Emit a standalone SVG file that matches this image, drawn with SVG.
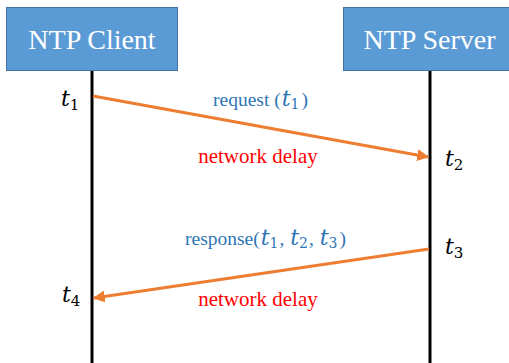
<svg xmlns="http://www.w3.org/2000/svg" width="509" height="363" viewBox="0 0 509 363">
<defs>
<style>
.box{fill:#5B9BD5;stroke:#41719C;stroke-width:1}
.title{font-size:28px;fill:#fff;text-anchor:middle}
.life{stroke:#000;stroke-width:3}
.msg{stroke:#ED7D31;stroke-width:3;fill:none}
.blue{font-size:19.5px;fill:#2E75B6}
.red{font-size:21px;fill:#FF0000;text-anchor:middle}
.m{font-family:'DejaVu Serif',serif;font-style:italic;font-size:22px}
.s{font-family:'DejaVu Serif',serif;font-size:14px}
.tl{font-family:'DejaVu Serif',serif;font-size:22px;fill:#000}
.tl .s{font-size:15px}
</style>
<marker id="ah" viewBox="0 0 10 10" refX="9" refY="5" markerWidth="4" markerHeight="4" orient="auto" markerUnits="strokeWidth">
<path d="M0,0 L10,5 L0,10 Z" fill="#ED7D31"/>
</marker>
</defs>
<rect width="509" height="363" fill="#fff"/>
<g id="client">
<rect class="box" x="6.5" y="7.5" width="171" height="63"/>
<text class="title" font-family="'Liberation Serif', serif" x="92" y="49">NTP Client</text>
<line class="life" x1="92" y1="71" x2="92" y2="363"/>
</g>
<g id="server">
<rect class="box" x="343.5" y="7.5" width="180" height="63"/>
<text class="title" font-family="'Liberation Serif', serif" x="429.5" y="49">NTP Server</text>
<line class="life" x1="430" y1="71" x2="430" y2="363"/>
</g>
<g id="connectors">
<line class="msg" x1="93" y1="96" x2="428" y2="157" marker-end="url(#ah)"/>
<line class="msg" x1="429" y1="249" x2="94" y2="298" marker-end="url(#ah)"/>
</g>
<g id="labels">
<text class="tl" x="61" y="106"><tspan font-style="italic">t</tspan><tspan class="s" dy="4">1</tspan></text>
<text class="tl" x="445" y="166"><tspan font-style="italic">t</tspan><tspan class="s" dy="4">2</tspan></text>
<text class="tl" x="445" y="254"><tspan font-style="italic">t</tspan><tspan class="s" dy="4">3</tspan></text>
<text class="tl" x="62" y="302"><tspan font-style="italic">t</tspan><tspan class="s" dy="4">4</tspan></text>
<text class="blue" font-family="'Liberation Serif', serif" x="213" y="106">request (<tspan class="m" dx="1">t</tspan><tspan class="s" dy="3">1</tspan><tspan dy="-3" dx="2">)</tspan></text>
<text class="blue" font-family="'Liberation Serif', serif" x="185" y="245">response(<tspan class="m" dx="1">t</tspan><tspan class="s" dy="3">1</tspan><tspan dy="-3" dx="1">, </tspan><tspan class="m" dx="1">t</tspan><tspan class="s" dy="3">2</tspan><tspan dy="-3" dx="1">, </tspan><tspan class="m" dx="1">t</tspan><tspan class="s" dy="3">3</tspan><tspan dy="-3" dx="2">)</tspan></text>
<text class="red" font-family="'Liberation Serif', serif" x="258" y="163">network delay</text>
<text class="red" font-family="'Liberation Serif', serif" x="258" y="306">network delay</text>
</g>
</svg>
